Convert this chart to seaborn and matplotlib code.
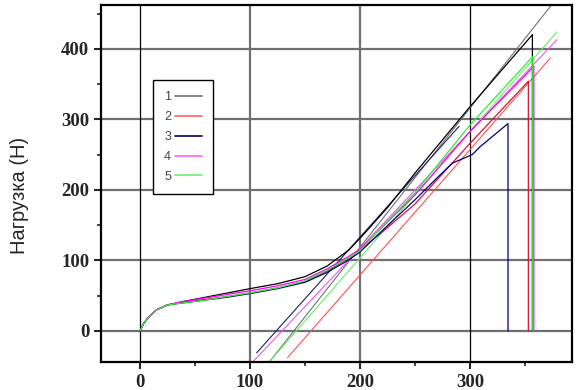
import matplotlib
matplotlib.use('Agg')
import matplotlib.pyplot as plt
from matplotlib.lines import Line2D
from matplotlib.ticker import MultipleLocator
import seaborn as sns
import pandas as pd

# Кривые нагружения (деформация, нагрузка) для пяти образцов
names = ['1', '2', '3', '4', '5']

x1 = [0, 3, 8, 15, 25, 40, 60, 80, 100, 125, 150, 170, 190, 205, 225, 250, 300, 330, 356.7, 356.7]
y1 = [0, 10, 20, 30, 37, 42, 48, 54, 60, 67, 77, 92, 115, 140, 175, 224, 318, 372, 420, 0]

x2 = [0, 3, 8, 15, 25, 40, 60, 80, 100, 125, 150, 170, 190, 200, 220, 250, 300, 353, 353]
y2 = [0, 10, 20, 30, 37, 41, 45, 49, 54, 61, 70, 85, 103, 115, 140, 180, 266, 354, 0]

x3 = [0, 3, 8, 15, 25, 40, 60, 80, 100, 125, 150, 170, 190, 200, 220, 250, 270, 284, 302, 309, 334.5, 334.5]
y3 = [0, 10, 20, 30, 37, 40, 44, 48, 53, 60, 69, 83, 101, 112, 142, 186, 217, 238, 250, 261, 294, 0]

x4 = [0, 3, 8, 15, 25, 40, 60, 80, 100, 125, 150, 170, 190, 200, 220, 250, 300, 358, 358]
y4 = [0, 10, 20, 30, 37, 42, 47, 52, 57, 64, 73, 88, 106, 116, 147, 193, 283, 375, 0]

x5 = [0, 3, 8, 15, 25, 40, 60, 80, 100, 125, 150, 170, 190, 200, 220, 250, 300, 357, 357]
y5 = [0, 10, 20, 30, 37, 40, 44, 49, 54, 61, 71, 86, 104, 114, 148, 196, 292, 389, 0]

# Касательные (линейные участки) для каждого образца
line_x0 = [118, 134, 106, 103, 118]
line_y0 = [-43, -38, -31, -43, -43]
line_x1 = [374, 373, 290, 379, 379]
line_y1 = [462, 387, 290, 413, 424]

curve_colors = ['#000000', '#e0103a', '#000080', '#ff00ff', '#33ee33']
line_colors = ['#707070', '#ff5050', '#202060', '#ee55ee', '#66ee66']
legend_colors = ['#707070', '#ff6060', '#000060', '#ff60ff', '#70ee70']

rows = []
for n, xs, ys in zip(names, [x1, x2, x3, x4, x5], [y1, y2, y3, y4, y5]):
    for a, b in zip(xs, ys):
        rows.append({'series': n, 'x': a, 'y': b})
df = pd.DataFrame(rows)

lrows = []
for i, n in enumerate(names):
    lrows.append({'series': n, 'x': line_x0[i], 'y': line_y0[i]})
    lrows.append({'series': n, 'x': line_x1[i], 'y': line_y1[i]})
df_lines = pd.DataFrame(lrows)

sns.set_style('white')
plt.rcParams['font.family'] = ['Liberation Sans', 'DejaVu Sans']

fig = plt.figure(figsize=(5.88, 3.90), dpi=100)
ax = fig.add_axes([0.1718, 0.0718, 0.801, 0.9152])

# сетка
for yv in [0, 100, 200, 300, 400]:
    ax.axhline(yv, color='#707070', lw=1.6, zorder=0)
for xv in [100, 200]:
    ax.axvline(xv, color='#707070', lw=1.6, zorder=0)
for xv in [0, 300]:
    ax.axvline(xv, color='black', lw=0.9, zorder=0)

sns.lineplot(data=df_lines, x='x', y='y', hue='series', palette=dict(zip(names, line_colors)),
             sort=False, estimator=None, lw=0.8, legend=False, ax=ax)
sns.lineplot(data=df, x='x', y='y', hue='series', palette=dict(zip(names, curve_colors)),
             sort=False, estimator=None, lw=0.9, legend=False, ax=ax)

ax.set_xlim(-35.5, 392.7)
ax.set_ylim(-44, 462)
ax.set_xlabel('')
ax.set_ylabel('')
ax.xaxis.set_major_locator(MultipleLocator(100))
ax.xaxis.set_minor_locator(MultipleLocator(50))
ax.yaxis.set_major_locator(MultipleLocator(100))
ax.yaxis.set_minor_locator(MultipleLocator(50))
ax.tick_params(which='major', direction='out', length=5, width=1.5, left=True, bottom=True)
ax.tick_params(which='minor', direction='out', length=3, width=1.2, left=True, bottom=True)
for lab in ax.get_xticklabels() + ax.get_yticklabels():
    lab.set_fontfamily('Liberation Serif')
    lab.set_fontweight('bold')
    lab.set_fontsize(13.5)
for sp in ax.spines.values():
    sp.set_visible(True)
    sp.set_color('black')
    sp.set_linewidth(1.6)

fig.text(0.034, 0.5, 'Нагрузка (Н)', rotation=90, ha='center', va='center', fontsize=14.5)

handles = [Line2D([], [], color=c, lw=1.2) for c in legend_colors]
leg = ax.legend(handles, names, loc='upper left', bbox_to_anchor=(0.110, 0.790),
                borderaxespad=0, markerfirst=False, fontsize=9, handlelength=2.1,
                handletextpad=0.34, labelspacing=0.63, borderpad=0.9, fancybox=False,
                framealpha=1, edgecolor='black')
leg.get_frame().set_linewidth(1.0)
for t in leg.get_texts():
    t.set_color('#444444')

fig.savefig('out.png', dpi=100)
